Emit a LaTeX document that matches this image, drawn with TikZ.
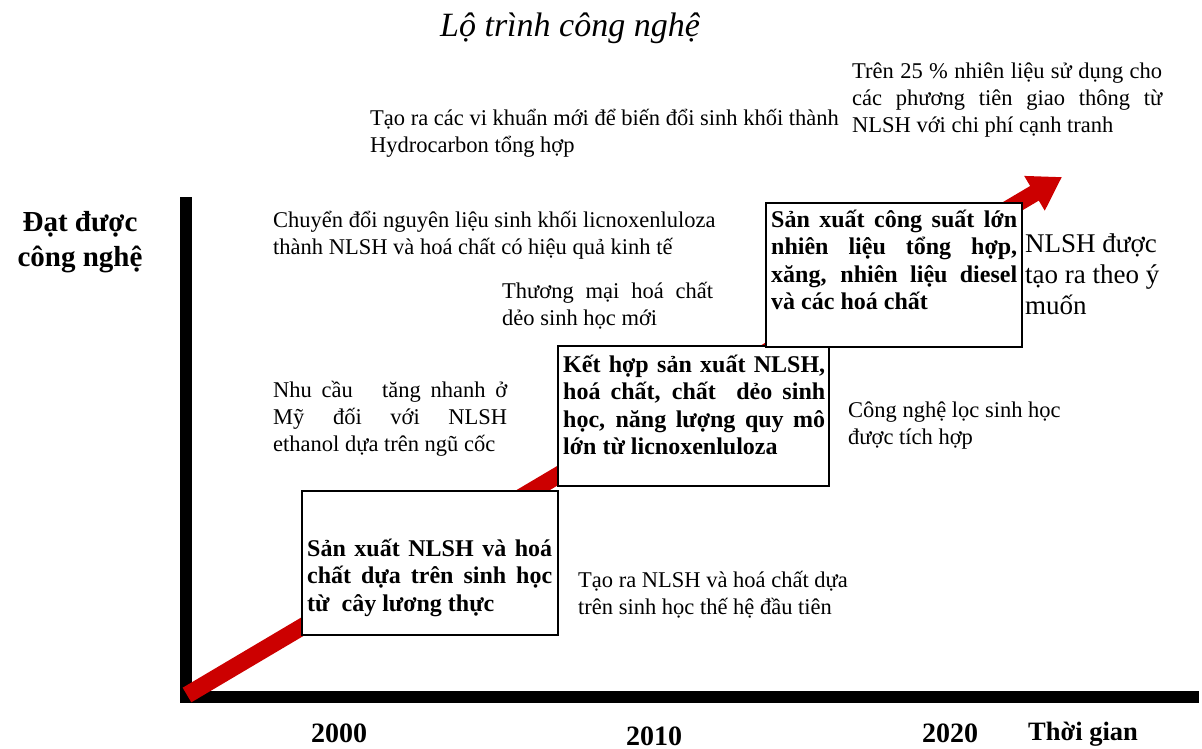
\documentclass[tikz,border=0pt]{standalone}
\usepackage{fontspec}
\setmainfont{Liberation Serif}
\usetikzlibrary{arrows.meta}
\definecolor{arrred}{RGB}{204,0,0}
\begin{document}
\begin{tikzpicture}[x=1pt,y=-1pt,
  body/.style={font=\fontsize{22.5}{27}\selectfont, inner sep=0pt, anchor=base west, align=left},
  bigbody/.style={font=\fontsize{27}{31}\selectfont, inner sep=0pt, anchor=base west, align=left},
  boxtext/.style={font=\fontsize{24}{27.5}\selectfont\bfseries, inner sep=0pt, anchor=base west, align=left},
  stagebox/.style={draw=black, line width=1.5pt, fill=white, inner sep=0pt, anchor=north west},
  yearlabel/.style={font=\fontsize{28}{30}\selectfont\bfseries, inner sep=0pt, anchor=base},
  axisline/.style={line width=12pt, line join=miter},
  trend/.style={draw=arrred, line width=17pt, -{Triangle[width=38pt,length=32pt,fill=arrred]}}]
\useasboundingbox (0,0) rectangle (1202,749);

% axes
\coordinate (ytop) at (185.5,197);
\coordinate (origin) at (185.5,696.5);
\coordinate (xend) at (1199,696.5);
\draw[axisline] (ytop) -- (origin) -- (xend);

% trend arrow
\coordinate (tstart) at (187,695);
\coordinate (tend) at (1062,177);
\draw[trend] (tstart) -- (tend);

% title
\node[font=\fontsize{34}{38}\selectfont\itshape, inner sep=0pt, anchor=base] (title) at (570,37) {Lộ trình công nghệ};

% y label (base anchor = last line)
\node[font=\fontsize{29}{35}\selectfont\bfseries, inner sep=0pt, anchor=base, align=center] (ylab) at (80,266) {Đạt được\\công nghệ};

% stage boxes
\node[stagebox, minimum width=256pt, minimum height=144pt] (b1) at (301,490) {};
\node[stagebox, minimum width=271pt, minimum height=140pt] (b2) at (557,345) {};
\node[stagebox, minimum width=256pt, minimum height=144pt] (b3) at (765,202) {};

\node[boxtext] (b1t) at (307,611) {\makebox[245pt][s]{Sản xuất NLSH và hoá}\\\makebox[245pt][s]{chất dựa trên sinh học}\\từ\ \ cây lương thực};
\node[boxtext] (b2t) at (563,454.5) {\makebox[262pt][s]{Kết hợp sản xuất NLSH,}\\\makebox[262pt][s]{hoá chất, chất\ \ dẻo sinh}\\\makebox[262pt][s]{học, năng lượng quy mô}\\lớn từ licnoxenluloza};
\node[boxtext] (b3t) at (771,309.5) {\makebox[246pt][s]{Sản xuất công suất lớn}\\\makebox[246pt][s]{nhiên liệu tổng hợp,}\\\makebox[246pt][s]{xăng, nhiên liệu diesel}\\và các hoá chất};

% descriptive texts (base anchor = last line)
\node[body] (t1) at (370,153) {Tạo ra các vi khuẩn mới để biến đổi sinh khối thành\\Hydrocarbon tổng hợp};
\node[body] (t2) at (852,132) {\makebox[310pt][s]{Trên 25 \% nhiên liệu sử dụng cho}\\\makebox[310pt][s]{các phương tiên giao thông từ}\\NLSH với chi phí cạnh tranh};
\node[body] (t3) at (273,254) {Chuyển đổi nguyên liệu sinh khối licnoxenluloza\\thành NLSH và hoá chất có hiệu quả kinh tế};
\node[body] (t4) at (502,325) {\makebox[211pt][s]{Thương mại hoá chất}\\dẻo sinh học mới};
\node[body] (t5) at (273,451) {\makebox[234pt][s]{Nhu cầu\ \ \ tăng nhanh ở}\\\makebox[234pt][s]{Mỹ đối với NLSH}\\ethanol dựa trên ngũ cốc};
\node[body] (t6) at (578,614) {Tạo ra NLSH và hoá chất dựa\\trên sinh học thế hệ đầu tiên};
\node[body] (t7) at (848,444) {Công nghệ lọc sinh học\\được tích hợp};
\node[bigbody] (t8) at (1025,314) {NLSH được\\tạo ra theo ý\\muốn};

% x axis labels
\node[yearlabel] (y2000) at (339,742) {2000};
\node[yearlabel] (y2010) at (654,745) {2010};
\node[yearlabel] (y2020) at (950,742) {2020};
\node[font=\fontsize{26.5}{30}\selectfont\bfseries, inner sep=0pt, anchor=base west] (xlab) at (1028,740) {Thời gian};
\end{tikzpicture}
\end{document}
